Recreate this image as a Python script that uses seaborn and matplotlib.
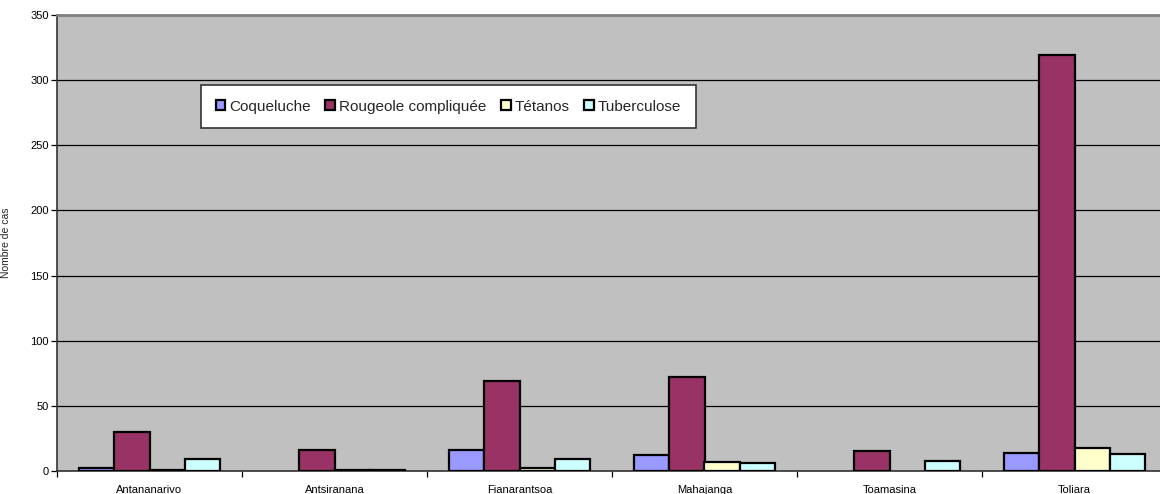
import matplotlib
matplotlib.use('Agg')
import matplotlib.pyplot as plt
import pandas as pd
import seaborn as sns

# Data
regions = ['Antananarivo', 'Antsiranana', 'Fianarantsoa', 'Mahajanga', 'Toamasina', 'Toliara']
diseases = ['Coqueluche', 'Rougeole compliquée', 'Tétanos', 'Tuberculose']
coqueluche = [2, 0, 16, 12, 0, 14]
rougeole = [30, 16, 69, 72, 15, 319]
tetanos = [1, 1, 2, 7, 0, 18]
tuberculose = [9, 1, 9, 6, 8, 13]
colors = ['#9999FF', '#993366', '#FFFFCC', '#CCFFFF']

df = pd.DataFrame({'region': regions * 4,
                   'maladie': [d for d in diseases for _ in regions],
                   'cas': coqueluche + rougeole + tetanos + tuberculose})

sns.set_style('white')
plt.rcParams['font.family'] = ['Liberation Sans', 'DejaVu Sans']

fig = plt.figure(figsize=(11.6, 4.94), dpi=100)
ax = fig.add_axes([57 / 1160, 1 - 471 / 494, 1110 / 1160, 456 / 494])
ax.set_facecolor('#C0C0C0')

sns.barplot(data=df, x='region', y='cas', hue='maladie', hue_order=diseases,
            palette=colors, width=0.76, saturation=1, edgecolor='black',
            linewidth=1.6, ax=ax, zorder=3)

# empty bars are not drawn in the original
for cont in ax.containers:
    for p in cont:
        if p.get_height() == 0:
            p.set_linewidth(0)

ax.set_ylim(0, 350)
ax.set_xlim(-0.5, 5.5)
ax.set_yticks(range(0, 351, 50))
ax.yaxis.grid(True, color='black', linewidth=0.9, zorder=0)
ax.set_axisbelow(True)
ax.set_xticks([i + 0.5 for i in range(-1, 6)], minor=True)
ax.tick_params(axis='x', which='major', bottom=False, length=0, labelsize=8, pad=10)
ax.tick_params(axis='x', which='minor', bottom=True, length=4, width=0.9, direction='out')
ax.tick_params(axis='y', left=True, length=4, width=0.9, direction='out', labelsize=8, pad=2)
ax.tick_params(axis='both', which='both', colors='black')
ax.set_xlabel('')
ax.set_ylabel('Nombre de cas', fontsize=7.5, labelpad=14)

for side in ['left', 'bottom']:
    ax.spines[side].set_color('#333333')
    ax.spines[side].set_linewidth(1.2)
ax.spines['top'].set_color('#808080')
ax.spines['top'].set_linewidth(2)
ax.spines['right'].set_visible(False)

leg = ax.legend(loc='upper left', bbox_to_anchor=(201 / 1160, 1 - 85 / 494),
                bbox_transform=fig.transFigure, ncol=4, frameon=True, fancybox=False,
                fontsize=11, handlelength=0.65, handleheight=0.65, handletextpad=0.25,
                columnspacing=0.95, borderpad=0.95, borderaxespad=0)
for h in leg.legend_handles:
    h.set_edgecolor('black')
    h.set_linewidth(1.6)
leg.get_frame().set_edgecolor('#333333')
leg.get_frame().set_linewidth(1.2)
leg.get_frame().set_facecolor('white')
leg.get_frame().set_alpha(1)

fig.savefig('out.png', dpi=100, facecolor='white')
